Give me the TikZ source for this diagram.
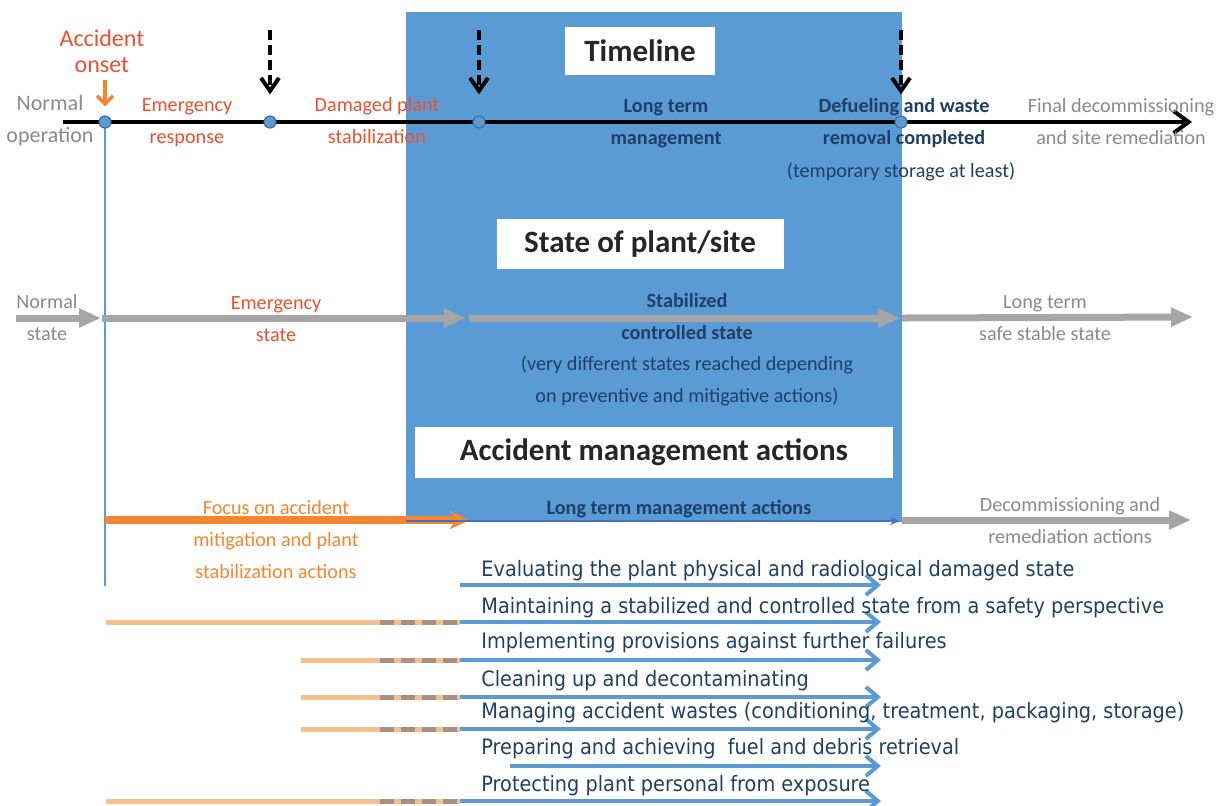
\documentclass[tikz,border=0pt]{standalone}
\usepackage{fontspec}
\setmainfont{Carlito}
\newfontfamily\listfont[FakeStretch=0.91]{DejaVu Sans}
\usetikzlibrary{arrows.meta}
\definecolor{panelblue}{HTML}{5B9BD5}
\definecolor{dotedge}{HTML}{3F6F9C}
\definecolor{alertred}{HTML}{EC502E}
\definecolor{focusorange}{HTML}{F5862F}
\definecolor{softgray}{HTML}{8A8A8A}
\definecolor{arrowgray}{HTML}{A6A6A6}
\definecolor{navy}{HTML}{1F3F66}
\definecolor{deepblue}{HTML}{4472C4}
\definecolor{peach}{HTML}{F9BE8E}
\definecolor{dashbrown}{HTML}{A89080}
\begin{document}
\begin{tikzpicture}[x=0.5pt,y=-0.5pt,
  lbl/.style={align=center,inner sep=0pt,font=\fontsize{10.1}{16}\selectfont},
  boldlbl/.style={lbl,text=navy,font=\fontsize{10.1}{16}\selectfont\bfseries},
  titlebox/.style={fill=white,inner sep=0pt,font=\fontsize{15.5}{18}\selectfont\bfseries,text=black!85},
  dot/.style={circle,fill=panelblue,draw=dotedge,line width=0.6pt,minimum size=6pt,inner sep=0pt},
  eventarrow/.style={line width=2pt,dash pattern=on 5pt off 2.5pt,shorten >=10.5pt,-{Straight Barb[length=6.5pt,width=9pt]}},
  statearrow/.style={arrowgray,line width=3.5pt,-{Triangle[length=11pt,width=9pt]}},
  actarrow/.style={panelblue,line width=2pt,-{Straight Barb[length=6pt,width=10pt]}},
  leadline/.style={peach,line width=2.5pt}]
\useasboundingbox (0,0) rectangle (1224,805);
\fill[panelblue] (406,12) rectangle (902,522);

% timeline
\coordinate (tl0) at (63,122);
\coordinate (tl1) at (1192,122);
\draw[line width=2pt,-{Straight Barb[length=7.5pt,width=11pt]}] (tl0) -- (tl1);
\coordinate (vb) at (105,586);
\draw[panelblue,line width=0.8pt] (105,122) -- (vb);
\node[dot] (c1) at (105,122) {};
\node[dot] (c2) at (270,122) {};
\node[dot] (c3) at (479,122) {};
\node[dot] (c4) at (901,122) {};
\coordinate (d2) at (270,30);
\coordinate (d3) at (479,30);
\coordinate (d4) at (901,30);
\foreach \n in {2,3,4}
  \draw[eventarrow] (d\n) -- (c\n);
\coordinate (d1) at (105,80);
\draw[focusorange,line width=1.8pt,shorten >=4.5pt,-{Straight Barb[length=4pt,width=8pt]}] (d1) -- (c1);

\node[titlebox,minimum width=75pt,minimum height=24pt] (ttime) at (640,51) {Timeline};
\node[lbl,text=alertred,font=\fontsize{12}{13}\selectfont] (onset) at (102,51) {Accident\\onset};
\node[lbl,text=softgray,font=\fontsize{11}{16}\selectfont] (normop) at (50,121) {Normal\\operation};
\node[lbl,text=alertred] (emresp) at (187,123) {Emergency\\response};
\node[lbl,text=alertred] (damaged) at (377,121) {Damaged plant\\stabilization};
\node[boldlbl] (ltm) at (666,124) {Long term\\management};
\node[boldlbl] (defuel) at (904,123) {Defueling and waste\\removal completed};
\node[lbl,text=navy] (tempst) at (901,172) {(temporary storage at least)};
\node[lbl,text=softgray] (finaldec) at (1121,122) {Final decommissioning\\and site remediation};

% state of plant/site
\node[titlebox,minimum width=143.5pt,minimum height=25pt] (tstate) at (640,244) {State of plant/site};
\coordinate (s0) at (16,318);
\coordinate (s1) at (101,318);
\coordinate (s2) at (102,318);
\coordinate (s3) at (466,318);
\coordinate (s4) at (469,318);
\coordinate (s5) at (900,318);
\coordinate (s6) at (902,318);
\coordinate (s7) at (1193,317);
\draw[statearrow] (s0) -- (s1);
\draw[statearrow] (s2) -- (s3);
\draw[statearrow] (s4) -- (s5);
\draw[statearrow] (s6) -- (s7);
\node[lbl,text=softgray] (normst) at (47,318) {Normal\\state};
\node[lbl,text=alertred] (emst) at (276,319) {Emergency\\state};
\node[boldlbl] (stab) at (687,316) {Stabilized\\controlled state};
\node[lbl,text=navy] (vdiff) at (687,381) {(very different states reached depending\\on preventive and mitigative actions)};
\node[lbl,text=softgray] (ltsafe) at (1045,318) {Long term\\safe stable state};

% accident management actions
\node[titlebox,minimum width=239pt,minimum height=25.5pt] (tact) at (654,452) {Accident management actions};
\coordinate (a0) at (105,520);
\coordinate (a1) at (470,520);
\coordinate (a2) at (406,521);
\coordinate (a3) at (900,521);
\coordinate (a4) at (902,520);
\coordinate (a5) at (1191,520);
\draw[focusorange,line width=4pt,-{Stealth[length=10pt,width=9pt,inset=3pt]}] (a0) -- (a1);
\draw[deepblue,line width=1pt,-{Stealth[length=5pt,width=4pt]}] (a2) -- (a3);
\draw[statearrow] (a4) -- (a5);
\node[lbl,text=focusorange] (focus) at (276,540) {Focus on accident\\mitigation and plant\\stabilization actions};
\node[boldlbl] (ltma) at (679,509) {Long term management actions};
\node[lbl,text=softgray] (decom) at (1070,521) {Decommissioning and\\remediation actions};

% individual actions
\foreach \i/\ys/\xs in {2/622/106,3/660/301,4/697/301,5/729/301,7/801/106}{
  \coordinate (l\i) at (\xs,\ys);
  \coordinate (m\i) at (460,\ys);
  \draw[leadline] (l\i) -- (m\i);
  \draw[dashbrown,line width=2.5pt,dash pattern=on 7pt off 3.5pt] (380,\ys) -- (457,\ys);
}
\foreach \i/\yt/\ya/\xs/\txt in {
  1/571/585/460/{Evaluating the plant physical and radiological damaged state},
  2/608/622/460/{Maintaining a stabilized and controlled state from a safety perspective},
  3/643/660/460/{Implementing provisions against further failures},
  4/681/697/460/{Cleaning up and decontaminating},
  5/713/729/460/{Managing accident wastes (conditioning, treatment, packaging, storage)},
  6/749/766/510/{Preparing and achieving\ \ fuel and debris retrieval},
  7/786/801/460/{Protecting plant personal from exposure}}{
  \coordinate (as\i) at (\xs,\ya);
  \coordinate (ae\i) at (881,\ya);
  \draw[actarrow] (as\i) -- (ae\i);
  \node[anchor=west,inner sep=0pt,text=navy,font=\listfont\fontsize{10.6}{12}\selectfont] (act\i) at (481,\yt) {\txt};
}
\end{tikzpicture}
\end{document}
